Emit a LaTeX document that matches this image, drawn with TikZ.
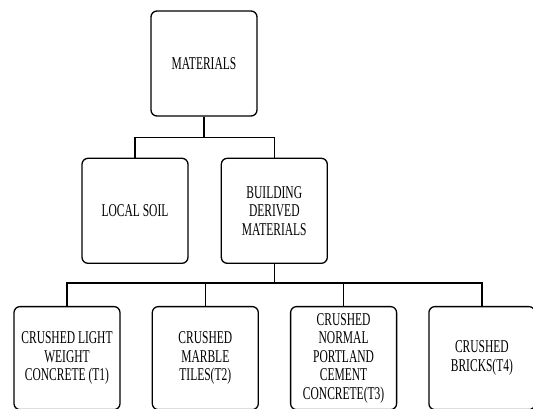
\documentclass[tikz,border=0pt]{standalone}
\usepackage{fontspec}
\setmainfont{Liberation Serif}[FakeStretch=0.64]
\usepackage{tikz}
\usetikzlibrary{positioning}

\begin{document}
\begin{tikzpicture}[
  x=1pt, y=1pt,
  node distance=41pt and 32pt,
  line width=1.3pt,
  box/.style={rectangle,rounded corners=6pt,draw,align=center,minimum width=106pt,minimum height=105pt,inner sep=2pt,font=\fontsize{18}{18.5}\selectfont},
  lowbox/.style={box,minimum height=103pt}
]
\useasboundingbox (0,0) rectangle (533,-408);
\node[box] (mat) at (204,-63.5) {MATERIALS};
\node[box, below=41pt of mat, xshift=-69pt] (soil) {LOCAL SOIL};
\node[box, right=32pt of soil] (bdm) {BUILDING\\DERIVED\\MATERIALS};
\node[lowbox, below=42pt of bdm, xshift=-69pt] (t2) {CRUSHED\\MARBLE\\TILES(T2)};
\node[lowbox, left=31pt of t2] (t1) {CRUSHED LIGHT\\WEIGHT\\CONCRETE (T1)};
\node[lowbox, right=31pt of t2] (t3) {CRUSHED\\NORMAL\\PORTLAND\\CEMENT\\CONCRETE(T3)};
\node[lowbox, right=31pt of t3] (t4) {CRUSHED\\BRICKS(T4)};

% connectors
\draw (mat.south) -- ++(0,-21) -| (soil.north);
\draw (mat.south) -- ++(0,-21) -| (bdm.north);
\foreach \t in {t1,t2,t3,t4}
  \draw (bdm.south) -- ++(0,-19) -| (\t.north);
\end{tikzpicture}
\end{document}
